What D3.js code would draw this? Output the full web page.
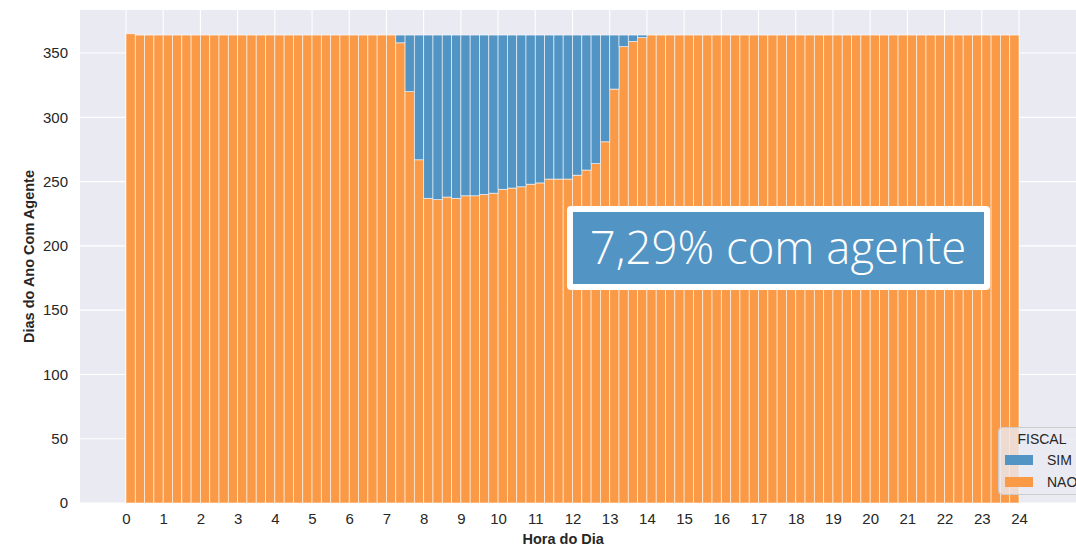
<!DOCTYPE html>
<html>
<head>
<meta charset="utf-8">
<script src="https://cdn.jsdelivr.net/npm/d3@7"></script>
<style>
  html, body { margin: 0; padding: 0; background: #ffffff; overflow: hidden; }
  svg { display: block; }
</style>
</head>
<body>
<div id="chart"></div>
<script>
// ---- Data ----
const binStart = [
  0,0.25,0.5,0.75,1,1.25,1.5,1.75,2,2.25,2.5,2.75,3,3.25,3.5,3.75,
  4,4.25,4.5,4.75,5,5.25,5.5,5.75,6,6.25,6.5,6.75,7,7.25,7.5,7.75,
  8,8.25,8.5,8.75,9,9.25,9.5,9.75,10,10.25,10.5,10.75,11,11.25,11.5,11.75,
  12,12.25,12.5,12.75,13,13.25,13.5,13.75,14,14.25,14.5,14.75,15,15.25,15.5,15.75,
  16,16.25,16.5,16.75,17,17.25,17.5,17.75,18,18.25,18.5,18.75,19,19.25,19.5,19.75,
  20,20.25,20.5,20.75,21,21.25,21.5,21.75,22,22.25,22.5,22.75,23,23.25,23.5,23.75
];
const binWidth = 0.25;

// NAO (orange, bottom of stack)
const naoValues = [
  365,364,364,364,364,364,364,364,364,364,
  364,364,364,364,364,364,364,364,364,364,
  364,364,364,364,364,364,364,364,364,358,
  320,267,237,236,238,237,239,239,240,241,
  244,245,246,248,249,252,252,252,255,259,
  264,281,322,355,359,362,364,364,364,364,
  364,364,364,364,364,364,364,364,364,364,
  364,364,364,364,364,364,364,364,364,364,
  364,364,364,364,364,364,364,364,364,364,
  364,364,364,364,364,364
];
// SIM (blue, top of stack)
const simValues = [
  0,0,0,0,0,0,0,0,0,0,
  0,0,0,0,0,0,0,0,0,0,
  0,0,0,0,0,0,0,0,0,6,
  44,97,127,128,126,127,125,125,124,123,
  120,119,118,116,115,112,112,112,109,105,
  100,83,42,9,5,2,0,0,0,0,
  0,0,0,0,0,0,0,0,0,0,
  0,0,0,0,0,0,0,0,0,0,
  0,0,0,0,0,0,0,0,0,0,
  0,0,0,0,0,0
];
const xTicks = [0,1,2,3,4,5,6,7,8,9,10,11,12,13,14,15,16,17,18,19,20,21,22,23,24];
const yTicks = [0,50,100,150,200,250,300,350];
const seriesNames = ["SIM", "NAO"];
const legendTitle = "FISCAL";
const xTitle = "Hora do Dia";
const yTitle = "Dias do Ano Com Agente";
const annotation = "7,29% com agente";

// ---- Layout ----
const W = 1076, H = 547;
const plot = { left: 80, right: 1095, top: 10, bottom: 503 };
const colors = { SIM: "#5294c4", NAO: "#fa9a47" };
const bg = "#eaeaf2";
const fontFam = "'Liberation Sans', Arial, sans-serif";

const svg = d3.select("#chart").append("svg")
  .attr("width", W).attr("height", H);

const x = d3.scaleLinear().domain([0, 24]).range([126, 1019]);
const y = d3.scaleLinear().domain([0, 383.5]).range([plot.bottom, plot.top]);

// background
svg.append("rect")
  .attr("x", plot.left).attr("y", plot.top)
  .attr("width", plot.right - plot.left).attr("height", plot.bottom - plot.top)
  .attr("fill", bg);

// grid
const grid = svg.append("g");
grid.selectAll("line.h").data(yTicks).join("line")
  .attr("x1", plot.left).attr("x2", plot.right)
  .attr("y1", d => y(d)).attr("y2", d => y(d))
  .attr("stroke", "#ffffff").attr("stroke-width", 1.1);
grid.selectAll("line.v").data(xTicks).join("line")
  .attr("y1", plot.top).attr("y2", plot.bottom)
  .attr("x1", d => x(d)).attr("x2", d => x(d))
  .attr("stroke", "#ffffff").attr("stroke-width", 1.1);

// stacked bars
const rows = binStart.map((b, i) => ({ start: b, NAO: naoValues[i], SIM: simValues[i] }));
const stack = d3.stack().keys(["NAO", "SIM"])(rows);
const barsG = svg.append("g");
stack.forEach(layer => {
  barsG.append("g").selectAll("rect")
    .data(layer.filter(d => d[1] - d[0] > 0))
    .join("rect")
    .attr("x", d => x(d.data.start))
    .attr("width", d => x(d.data.start + binWidth) - x(d.data.start))
    .attr("y", d => y(d[1]))
    .attr("height", d => y(d[0]) - y(d[1]))
    .attr("fill", colors[layer.key])
    .attr("stroke", "#ffffff")
    .attr("stroke-opacity", 0.7)
    .attr("stroke-width", 0.8);
});

// axes (labels only, seaborn darkgrid style)
const xAxis = d3.axisBottom(x).tickValues(xTicks).tickSize(0).tickPadding(10).tickFormat(d3.format("d"));
const gx = svg.append("g").attr("transform", `translate(0,${plot.bottom})`).call(xAxis);
gx.select(".domain").remove();
gx.selectAll("text").attr("font-family", fontFam).attr("font-size", 15).attr("fill", "#262626");

const yAxis = d3.axisLeft(y).tickValues(yTicks).tickSize(0).tickPadding(12).tickFormat(d3.format("d"));
const gy = svg.append("g").attr("transform", `translate(${plot.left},0)`).call(yAxis);
gy.select(".domain").remove();
gy.selectAll("text").attr("font-family", fontFam).attr("font-size", 15).attr("fill", "#262626");

// axis titles
svg.append("text")
  .attr("x", x(11.75)).attr("y", 544)
  .attr("text-anchor", "middle")
  .attr("font-family", fontFam).attr("font-weight", "bold").attr("font-size", 14.5)
  .attr("fill", "#262626")
  .text(xTitle);
svg.append("text")
  .attr("transform", `translate(34,${(plot.top + plot.bottom) / 2}) rotate(-90)`)
  .attr("text-anchor", "middle")
  .attr("font-family", fontFam).attr("font-weight", "bold").attr("font-size", 14.5)
  .attr("fill", "#262626")
  .text(yTitle);

// annotation box
const ann = svg.append("g");
ann.append("rect")
  .attr("x", 567).attr("y", 206).attr("width", 423).attr("height", 84)
  .attr("rx", 4).attr("fill", "#ffffff");
ann.append("rect")
  .attr("x", 573).attr("y", 212).attr("width", 411).attr("height", 72)
  .attr("fill", "#5294c4");
ann.append("text")
  .attr("x", 778).attr("y", 264)
  .attr("text-anchor", "middle")
  .attr("font-family", "'Open Sans', 'Noto Sans', sans-serif")
  .attr("font-weight", 300)
  .attr("font-size", 45.5)
  .attr("fill", "#ffffff")
  .text(annotation);

// legend
const lg = svg.append("g");
lg.append("rect")
  .attr("x", 998.5).attr("y", 427.5).attr("width", 110).attr("height", 67)
  .attr("rx", 4)
  .attr("fill", bg).attr("fill-opacity", 0.8)
  .attr("stroke", "#cccccc").attr("stroke-width", 1);
lg.append("text")
  .attr("x", 1042).attr("y", 444)
  .attr("text-anchor", "middle")
  .attr("font-family", fontFam).attr("font-size", 14).attr("fill", "#262626")
  .text(legendTitle);
seriesNames.forEach((name, i) => {
  const yy = 455 + i * 22;
  lg.append("rect")
    .attr("x", 1005).attr("y", yy).attr("width", 28).attr("height", 10)
    .attr("fill", colors[name]);
  lg.append("text")
    .attr("x", 1047).attr("y", yy + 10)
    .attr("font-family", fontFam).attr("font-size", 14).attr("fill", "#262626")
    .text(name);
});
</script>
</body>
</html>
